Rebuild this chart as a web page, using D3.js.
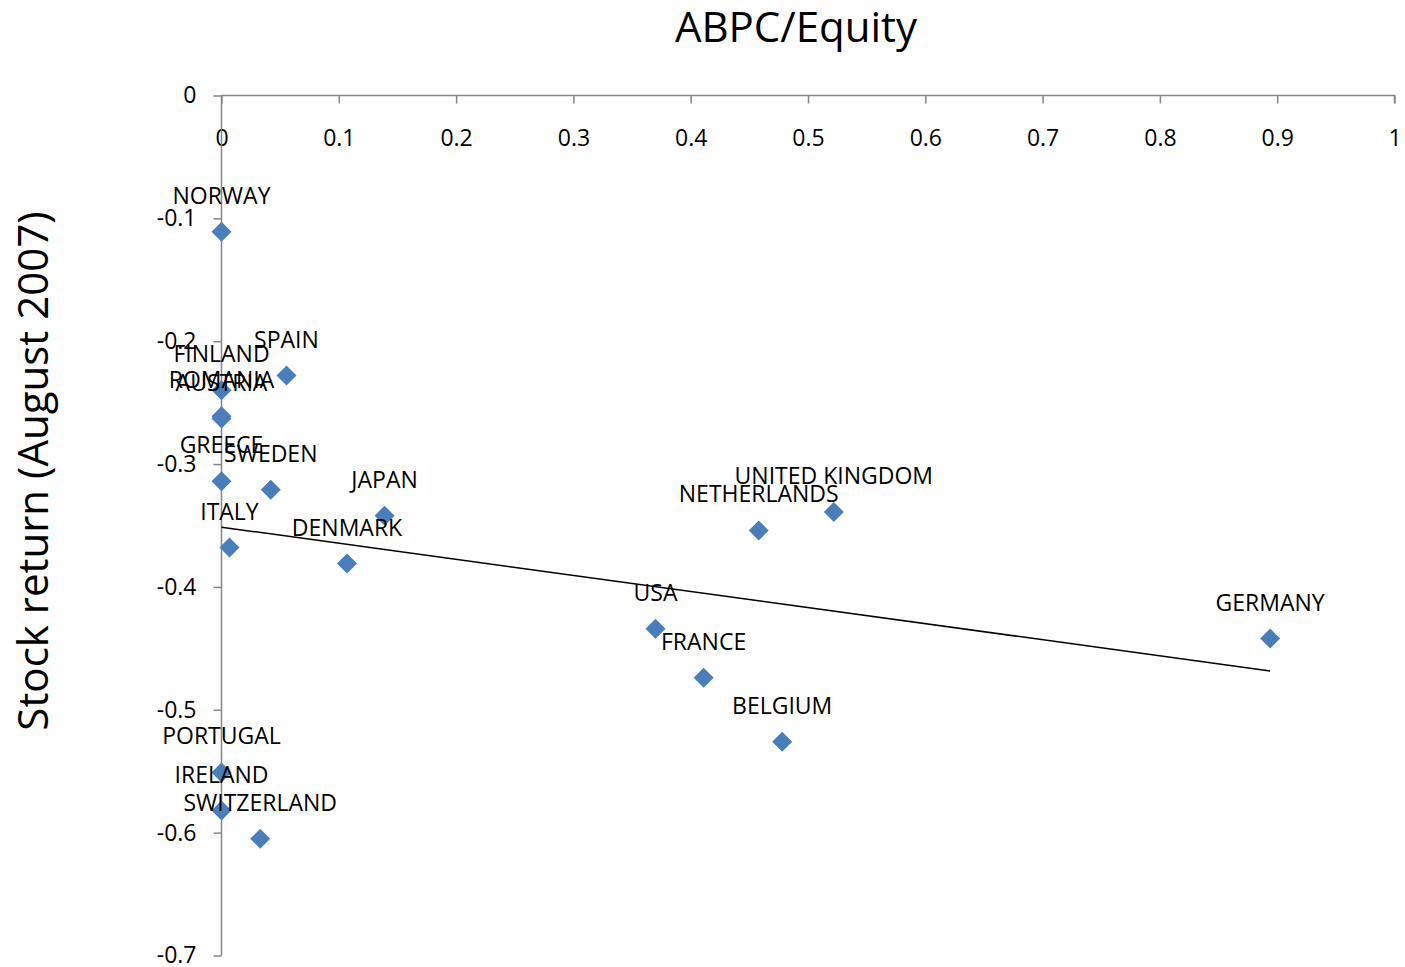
<!DOCTYPE html>
<html>
<head>
<meta charset="utf-8">
<script src="https://cdn.jsdelivr.net/npm/d3@7"></script>
<style>
  html, body { margin: 0; padding: 0; background: #fff; }
  svg { display: block; font-family: "Open Sans", sans-serif; }
</style>
</head>
<body>
<svg id="chart" width="1405" height="967"></svg>
<script>
const countries = ["NORWAY","SPAIN","FINLAND","ROMANIA","AUSTRIA","GREECE","SWEDEN","JAPAN","ITALY","DENMARK",
  "UNITED KINGDOM","NETHERLANDS","USA","FRANCE","BELGIUM","GERMANY","PORTUGAL","IRELAND","SWITZERLAND"];
const abpcEquity = [0, 0.0554, 0, 0, 0, 0, 0.042, 0.139, 0.0068, 0.107,
  0.522, 0.458, 0.370, 0.411, 0.478, 0.894, 0, 0, 0.033];
const stockReturn = [-0.111, -0.228, -0.240, -0.261, -0.263, -0.314, -0.321, -0.342, -0.368, -0.381,
  -0.339, -0.354, -0.434, -0.474, -0.526, -0.442, -0.551, -0.582, -0.605];
const xTicks = [0, 0.1, 0.2, 0.3, 0.4, 0.5, 0.6, 0.7, 0.8, 0.9, 1];
const yTicks = [0, -0.1, -0.2, -0.3, -0.4, -0.5, -0.6, -0.7];
const title = "ABPC/Equity";
const yTitle = "Stock return (August 2007)";

const FONT = "'Open Sans', sans-serif";
const svg = d3.select("#chart");
const x = d3.scaleLinear().domain([0, 1]).range([221.5, 1394.5]);
const y = d3.scaleLinear().domain([0, -0.7]).range([95.5, 955.5]);
const axisColor = "#868686";
const fmt = d => String(d);

// X axis (at top, ticks pointing down into plot)
const xAxis = svg.append("g").attr("transform", `translate(0,${y(0)})`)
  .call(d3.axisBottom(x).tickValues(xTicks).tickSize(8).tickFormat(fmt));
xAxis.select(".domain").attr("stroke", axisColor).attr("stroke-width", 1.5)
  .attr("d", `M${x(0)},0H${x(1)}V8`);
xAxis.selectAll(".tick line").attr("stroke", axisColor).attr("stroke-width", 1.5);
xAxis.selectAll(".tick text").attr("font-size", 23).attr("fill", "#000")
  .attr("font-family", FONT).attr("y", 42).attr("dy", "0.35em");

// Y axis
const yAxis = svg.append("g").attr("transform", `translate(${x(0)},0)`)
  .call(d3.axisLeft(y).tickValues(yTicks).tickSize(8).tickFormat(fmt));
yAxis.select(".domain").attr("stroke", axisColor).attr("stroke-width", 1.5)
  .attr("d", `M0,${y(0)}V${y(-0.7)}`);
yAxis.selectAll(".tick line").attr("stroke", axisColor).attr("stroke-width", 1.5);
yAxis.selectAll(".tick text").attr("font-size", 23).attr("fill", "#000")
  .attr("font-family", FONT).attr("x", -25);

// Linear trendline (least squares from data)
const mx = d3.mean(abpcEquity), my = d3.mean(stockReturn);
let sxy = 0, sxx = 0;
abpcEquity.forEach((v, i) => { sxy += (v - mx) * (stockReturn[i] - my); sxx += (v - mx) ** 2; });
const slope = sxy / sxx, intercept = my - slope * mx;
const x0 = d3.min(abpcEquity), x1 = d3.max(abpcEquity);
svg.append("line")
  .attr("x1", x(x0)).attr("y1", y(intercept + slope * x0))
  .attr("x2", x(x1)).attr("y2", y(intercept + slope * x1))
  .attr("stroke", "#000").attr("stroke-width", 1.5);

// Points
const data = countries.map((c, i) => ({ c, xv: abpcEquity[i], yv: stockReturn[i] }));
svg.append("g").selectAll("path").data(data).join("path")
  .attr("d", d3.symbol().type(d3.symbolSquare).size(200))
  .attr("transform", d => `translate(${x(d.xv)},${y(d.yv)}) rotate(45)`)
  .attr("fill", "#4a7ebb");

// Labels
svg.append("g").selectAll("text").data(data).join("text")
  .attr("x", d => x(d.xv)).attr("y", d => y(d.yv) - 36)
  .attr("dy", "0.35em").attr("text-anchor", "middle")
  .attr("font-size", 23).attr("fill", "#000").attr("font-family", FONT)
  .text(d => d.c);

// Titles
svg.append("text").attr("x", 796).attr("y", 27).attr("dy", "0.35em")
  .attr("text-anchor", "middle").attr("font-size", 42).attr("font-family", FONT).text(title);
svg.append("text").attr("transform", `translate(33,471) rotate(-90)`).attr("dy", "0.35em")
  .attr("text-anchor", "middle").attr("font-size", 42).attr("font-family", FONT).text(yTitle);
</script>
</body>
</html>
